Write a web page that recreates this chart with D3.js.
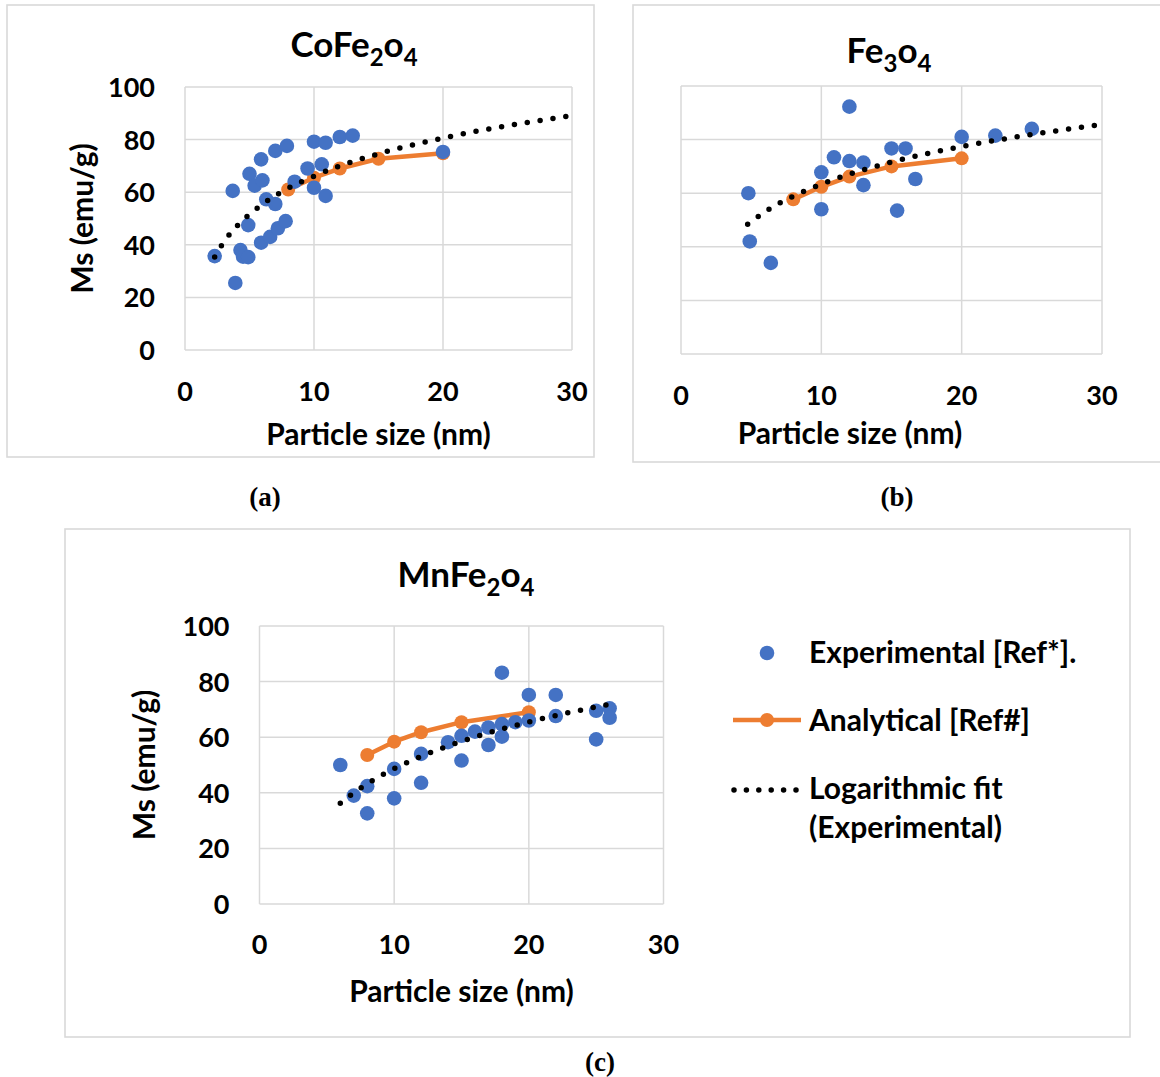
<!DOCTYPE html>
<html>
<head>
<meta charset="utf-8">
<script src="https://cdn.jsdelivr.net/npm/d3@7"></script>
<style>
  html, body { margin: 0; padding: 0; background: #fff; }
  svg { display: block; }
  text { font-family: Lato, "Open Sans", sans-serif; font-weight: bold; fill: #000; }
  .cap { font-family: "Liberation Serif", "Times New Roman", serif; font-weight: bold; }
</style>
</head>
<body>
<svg id="chart" width="1160" height="1077"></svg>
<script>
// ---------------- DATA ----------------
const xTicks = [0, 10, 20, 30];
const yTicks = [0, 20, 40, 60, 80, 100];

// (a) CoFe2O4
const coExpX = [2.3, 3.9, 3.7, 4.3, 4.5, 4.9, 4.9, 5.0, 5.4, 6.0, 5.9, 5.9, 6.3, 7.0, 6.6, 7.2, 7.8, 7.0, 7.9, 8.5, 9.5, 10.0, 10.0, 10.9, 10.6, 10.9, 12.0, 13.0, 20.0];
const coExpY = [35.7, 25.5, 60.5, 38.0, 35.5, 35.3, 47.5, 67.0, 62.5, 64.5, 72.5, 40.8, 57.3, 55.5, 43.0, 46.3, 49.0, 75.7, 77.6, 64.0, 69.0, 61.7, 79.2, 78.8, 70.6, 58.6, 81.0, 81.5, 75.3];
const coAnaX = [8, 10, 12, 15, 20];
const coAnaY = [61.0, 65.5, 69.0, 72.7, 74.8];
const coFitX = [2.3, 3, 4, 5, 6, 7, 8, 10, 12, 15, 20, 25, 30];
const coFitY = [35.4, 41.0, 47.0, 51.6, 55.4, 58.7, 61.5, 66.1, 70.0, 74.6, 80.6, 85.3, 89.1];

// (b) Fe3O4
const feExpX = [4.8, 4.9, 6.4, 10.0, 10.0, 10.9, 12.0, 12.0, 13.0, 13.0, 15.0, 16.0, 15.4, 16.7, 20.0, 22.4, 25.0];
const feExpY = [60.0, 42.0, 34.0, 67.8, 54.0, 73.4, 92.3, 72.0, 71.4, 63.0, 76.7, 76.7, 53.5, 65.3, 81.0, 81.5, 84.0];
const feAnaX = [8, 10, 12, 15, 20];
const feAnaY = [57.7, 62.4, 66.2, 70.0, 73.0];
const feFitX = [4.75, 6, 8, 10, 12, 15, 20, 25, 30];
const feFitY = [48.4, 53.1, 58.9, 63.4, 67.1, 71.6, 77.4, 81.9, 85.6];

// (c) MnFe2O4
const mnExpX = [6, 7, 8, 8, 10, 10, 12, 12, 14, 15, 15, 16, 17, 17, 18, 18, 18, 19, 20, 20, 22, 22, 25, 25, 26, 26];
const mnExpY = [50.0, 39.0, 42.4, 32.6, 48.6, 38.0, 54.0, 43.6, 58.2, 60.5, 51.6, 62.0, 63.5, 57.2, 64.7, 60.2, 83.2, 65.4, 66.0, 75.2, 67.6, 75.2, 69.5, 59.2, 70.4, 67.0];
const mnAnaX = [8, 10, 12, 15, 20];
const mnAnaY = [53.6, 58.4, 61.8, 65.4, 69.0];
const mnFitX = [6, 7, 8, 10, 12, 15, 20, 25, 26];
const mnFitY = [36.2, 40.0, 43.2, 48.7, 53.1, 58.5, 65.5, 70.9, 71.9];

const legendLabels = ["Experimental [Ref*].", "Analytical [Ref#]", "Logarithmic fit", "(Experimental)"];
const captions = ["(a)", "(b)", "(c)"];

// ---------------- STYLE ----------------
const BLUE = "#4472C4", ORANGE = "#ED7D31", GRID = "#d9d9d9";
const zip = (xs, ys) => xs.map((x, i) => ({ x, y: ys[i] }));

const svg = d3.select("#chart");

// panel frames
const frames = [
  { x0: 7, y0: 5, x1: 594, y1: 457 },
  { x0: 633, y0: 5, x1: 1165, y1: 462 },
  { x0: 65, y0: 529, x1: 1130, y1: 1037 }
];
frames.forEach(f => svg.append("rect")
  .attr("x", f.x0).attr("y", f.y0).attr("width", f.x1 - f.x0).attr("height", f.y1 - f.y0)
  .attr("fill", "none").attr("stroke", GRID).attr("stroke-width", 1.6));

const panels = [
  { l: 185, r: 572, t: 87, b: 350, title: ["CoFe", "2", "o", "4"], tx: 354, ty: 57, yLabels: true,
    exp: zip(coExpX, coExpY), ana: zip(coAnaX, coAnaY), fit: zip(coFitX, coFitY),
    xTickY: 401, xTitleY: 445, yTitleX: 93 },
  { l: 681, r: 1102, t: 86, b: 354, title: ["Fe", "3", "o", "4"], tx: 889, ty: 63, yLabels: false,
    exp: zip(feExpX, feExpY), ana: zip(feAnaX, feAnaY), fit: zip(feFitX, feFitY),
    xTickY: 405, xTitleY: 444, xTitleCx: 850 },
  { l: 259.5, r: 663.5, t: 626, b: 904, title: ["MnFe", "2", "o", "4"], tx: 466, ty: 587, yLabels: true,
    exp: zip(mnExpX, mnExpY), ana: zip(mnAnaX, mnAnaY), fit: zip(mnFitX, mnFitY),
    xTickY: 954, xTitleY: 1002, yTitleX: 155 }
];

panels.forEach(p => {
  const x = d3.scaleLinear().domain([0, 30]).range([p.l, p.r]);
  const y = d3.scaleLinear().domain([0, 100]).range([p.b, p.t]);
  const g = svg.append("g");

  // gridlines
  g.selectAll(".hg").data(yTicks).join("line")
    .attr("x1", p.l).attr("x2", p.r).attr("y1", d => y(d)).attr("y2", d => y(d))
    .attr("stroke", GRID).attr("stroke-width", 1.5);
  g.selectAll(".vg").data(xTicks).join("line")
    .attr("y1", p.t).attr("y2", p.b).attr("x1", d => x(d)).attr("x2", d => x(d))
    .attr("stroke", GRID).attr("stroke-width", 1.5);

  // tick labels
  g.selectAll(".xt").data(xTicks).join("text")
    .attr("x", d => x(d)).attr("y", p.xTickY).attr("text-anchor", "middle")
    .style("font-size", "27px").text(d => d);
  if (p.yLabels) {
    g.selectAll(".yt").data(yTicks).join("text")
      .attr("x", p.l - 30).attr("y", d => y(d) + 10).attr("text-anchor", "end")
      .style("font-size", "27px").text(d => d);
    g.append("text")
      .attr("transform", `translate(${p.yTitleX},${(p.t + p.b) / 2}) rotate(-90)`)
      .attr("text-anchor", "middle").style("font-size", "30px").text("Ms (emu/g)");
  }
  // x title
  g.append("text").attr("x", p.xTitleCx || (p.l + p.r) / 2).attr("y", p.xTitleY)
    .attr("text-anchor", "middle").style("font-size", "30px").text("Particle size (nm)");

  // title with subscripts
  const tt = g.append("text").attr("x", p.tx).attr("y", p.ty).attr("text-anchor", "middle")
    .style("font-size", "35px");
  p.title.forEach((s, i) => {
    const sub = i % 2 === 1;
    tt.append("tspan").text(s)
      .attr("dy", i === 0 ? 0 : (sub ? 9 : -9))
      .style("font-size", sub ? "24px" : "35px");
  });

  // analytical line + markers
  const line = d3.line().x(d => x(d.x)).y(d => y(d.y));
  g.append("path").datum(p.ana).attr("d", line)
    .attr("fill", "none").attr("stroke", ORANGE).attr("stroke-width", 4.5).attr("stroke-linejoin", "round");
  g.selectAll(".am").data(p.ana).join("circle")
    .attr("cx", d => x(d.x)).attr("cy", d => y(d.y)).attr("r", 7).attr("fill", ORANGE);

  // experimental markers
  g.selectAll(".em").data(p.exp).join("circle")
    .attr("cx", d => x(d.x)).attr("cy", d => y(d.y)).attr("r", 7.3).attr("fill", BLUE);

  // log fit (dotted)
  const fitLine = d3.line().x(d => x(d.x)).y(d => y(d.y)).curve(d3.curveMonotoneX);
  g.append("path").datum(p.fit).attr("d", fitLine)
    .attr("fill", "none").attr("stroke", "#000").attr("stroke-width", 5.5)
    .attr("stroke-linecap", "round").attr("stroke-dasharray", "0 13");
});

// legend
const lg = svg.append("g");
lg.append("circle").attr("cx", 767).attr("cy", 653).attr("r", 7.3).attr("fill", BLUE);
lg.append("line").attr("x1", 733).attr("x2", 801).attr("y1", 720).attr("y2", 720)
  .attr("stroke", ORANGE).attr("stroke-width", 4.5);
lg.append("circle").attr("cx", 767).attr("cy", 720).attr("r", 7).attr("fill", ORANGE);
lg.append("line").attr("x1", 734).attr("x2", 797).attr("y1", 790).attr("y2", 790)
  .attr("stroke", "#000").attr("stroke-width", 5.5).attr("stroke-linecap", "round")
  .attr("stroke-dasharray", "0 12.4");
const legY = [663, 731, 799, 838];
lg.selectAll(".lt").data(legendLabels).join("text")
  .attr("x", 809).attr("y", (d, i) => legY[i]).style("font-size", "30px").text(d => d);

// captions
const capPos = [[265, 506], [897, 506], [600, 1071]];
svg.selectAll(".captxt").data(captions).join("text").attr("class", "cap")
  .attr("x", (d, i) => capPos[i][0]).attr("y", (d, i) => capPos[i][1])
  .attr("text-anchor", "middle").style("font-size", "27px").text(d => d);
</script>
</body>
</html>
